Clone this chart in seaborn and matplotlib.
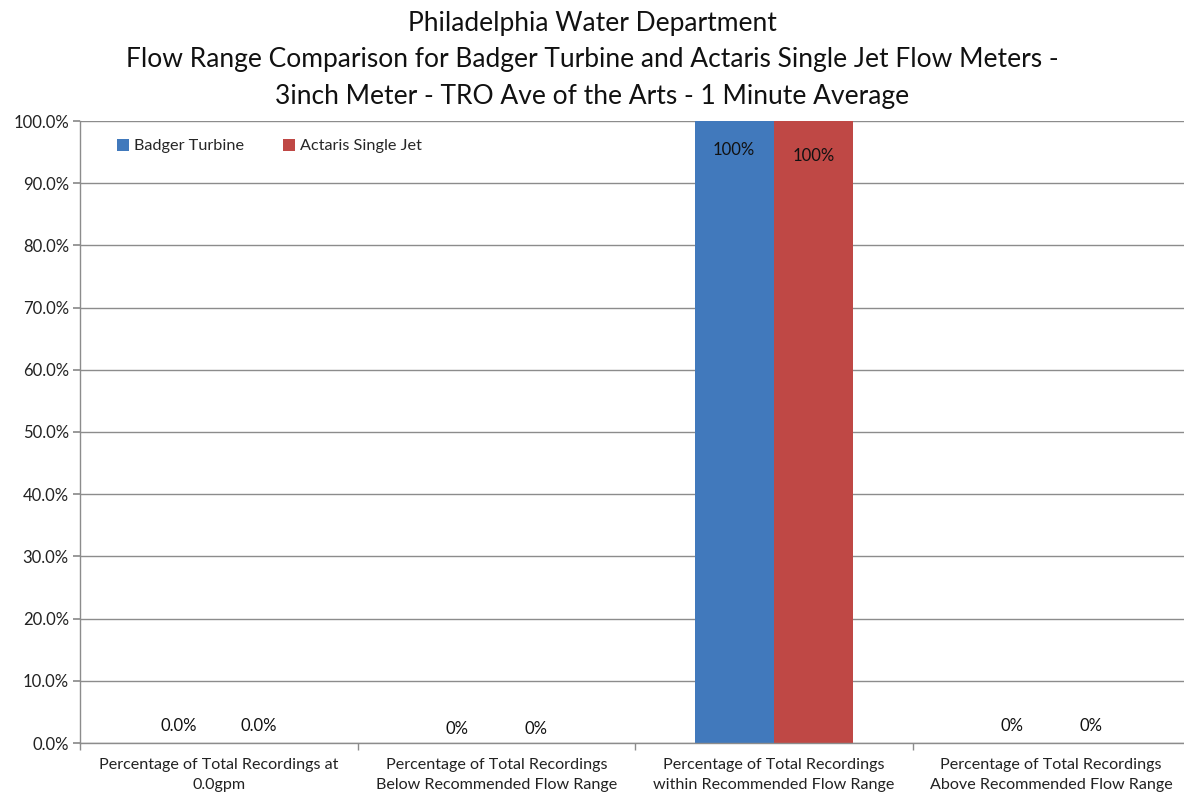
import matplotlib
matplotlib.use("Agg")
import matplotlib.pyplot as plt
import seaborn as sns
import pandas as pd
import numpy as np

categories = [
    "Percentage of Total Recordings at\n0.0gpm",
    "Percentage of Total Recordings\nBelow Recommended Flow Range",
    "Percentage of Total Recordings\nwithin Recommended Flow Range",
    "Percentage of Total Recordings\nAbove Recommended Flow Range",
]
series = ["Badger Turbine", "Actaris Single Jet"]
badger_turbine = [0.0, 0.0, 100.0, 0.0]
actaris_single_jet = [0.0, 0.0, 100.0, 0.0]
label_formats = ["{:.1f}%", "{:.0f}%", "{:.0f}%", "{:.0f}%"]
yticks = [0, 10, 20, 30, 40, 50, 60, 70, 80, 90, 100]
title = ("Philadelphia Water Department\n"
         "Flow Range Comparison for Badger Turbine and Actaris Single Jet Flow Meters -\n"
         "3inch Meter - TRO Ave of the Arts - 1 Minute Average")
colors = ["#4179BC", "#BF4845"]

df = pd.DataFrame({
    "category": categories * 2,
    "series": [series[0]] * 4 + [series[1]] * 4,
    "value": badger_turbine + actaris_single_jet,
})

sns.set_theme(style="white")
plt.rcParams["font.family"] = ["Lato", "DejaVu Sans"]

fig = plt.figure(figsize=(11.84, 7.97), dpi=100)
ax = fig.add_axes([80 / 1184, 54 / 797, 1110 / 1184, 622 / 797])

sns.barplot(data=df, x="category", y="value", hue="series", palette=colors,
            width=0.57, gap=0, saturation=1, linewidth=0, edgecolor="none",
            ax=ax, legend=True)

ax.set_ylim(0, 100)
ax.set_xlim(-0.5, 3.5)
ax.set_yticks(yticks)
ax.set_yticklabels([f"{t:.1f}%" for t in yticks], fontsize=12, color="#222222")
ax.yaxis.grid(True, color="#8C8C8C", linewidth=1)
ax.set_axisbelow(True)
ax.tick_params(axis="y", left=True, length=5, color="#8C8C8C", pad=3)

ax.set_xticks(range(4))
ax.set_xticklabels(categories, fontsize=11.6, color="#222222", linespacing=1.5)
ax.set_xticks(np.arange(-0.5, 4.0, 1.0), minor=True)
ax.tick_params(axis="x", which="major", length=0, pad=11)
ax.tick_params(axis="x", which="minor", bottom=True, length=5, color="#8C8C8C")
ax.set_xlabel("")
ax.set_ylabel("")

for side in ["top", "right"]:
    ax.spines[side].set_visible(False)
for side in ["left", "bottom"]:
    ax.spines[side].set_color("#8C8C8C")
    ax.spines[side].set_linewidth(1)

# data labels
for container, vals in zip(ax.containers, [badger_turbine, actaris_single_jet]):
    labels = [fmt.format(v) for fmt, v in zip(label_formats, vals)]
    for i, (bar, lab, v) in enumerate(zip(container, labels, vals)):
        x = bar.get_x() + bar.get_width() / 2
        if v > 50:
            y = v - (4.6 if container is ax.containers[0] else 5.7)
        else:
            y = v + (2.8 if i != 1 else 2.3)
        ax.text(x, y, lab, ha="center", va="center", fontsize=12, color="#111111")

leg = ax.legend(loc="upper left", bbox_to_anchor=(0.02, 0.995), ncol=2, frameon=False,
                fontsize=11.7, handlelength=0.75, handleheight=0.75, handletextpad=0.3,
                columnspacing=2.4)

fig.suptitle(title, fontsize=19, y=0.986, linespacing=1.56, color="#111111")

fig.savefig("out.png", dpi=100)
